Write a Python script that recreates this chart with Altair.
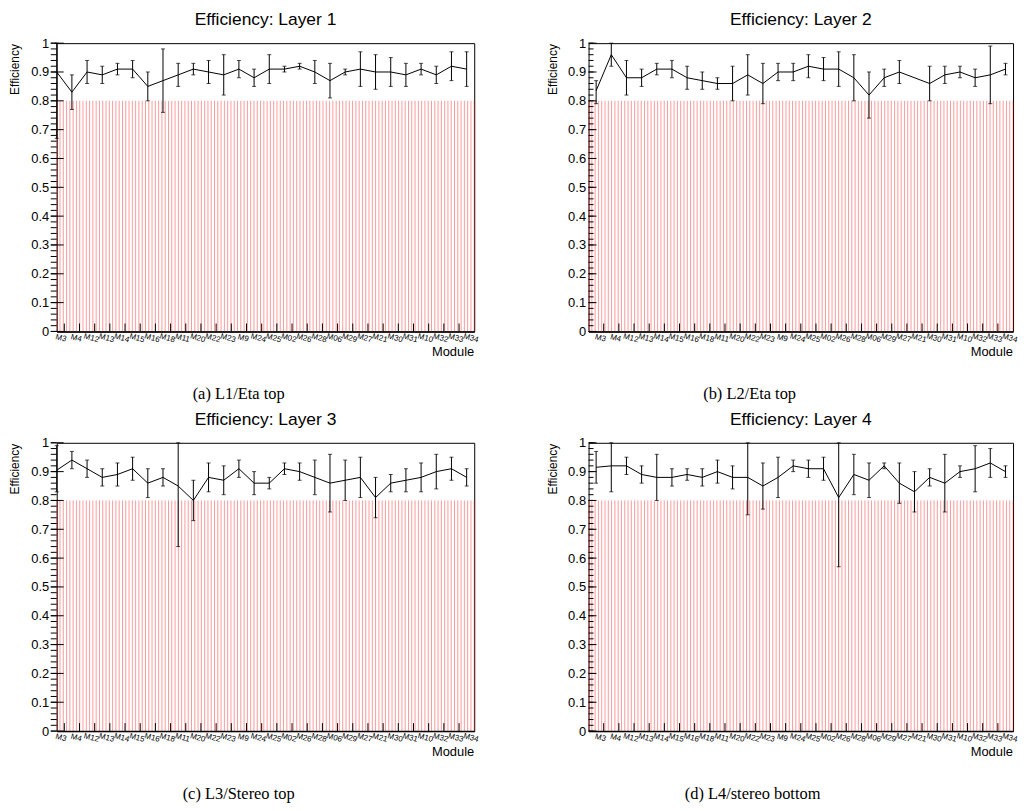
import altair as alt
import pandas as pd
import numpy as np

modules = ["M3", "M4", "M12", "M13", "M14", "M15", "M16", "M18", "M11", "M20",
           "M22", "M23", "M9", "M24", "M25", "M02", "M26", "M28", "M06", "M29",
           "M27", "M21", "M30", "M31", "M10", "M32", "M33", "M34"]

eff1 = [0.90, 0.83, 0.90, 0.89, 0.91, 0.91, 0.85, 0.87, 0.89, 0.91, 0.90, 0.89, 0.91, 0.88,
        0.91, 0.91, 0.92, 0.90, 0.87, 0.90, 0.91, 0.90, 0.90, 0.89, 0.91, 0.89, 0.92, 0.91]
lo1 = [0.67, 0.77, 0.86, 0.86, 0.89, 0.88, 0.80, 0.76, 0.85, 0.89, 0.86, 0.82, 0.88, 0.85,
       0.86, 0.90, 0.91, 0.86, 0.81, 0.89, 0.85, 0.84, 0.85, 0.85, 0.89, 0.86, 0.87, 0.85]
hi1 = [1.00, 0.89, 0.94, 0.92, 0.93, 0.94, 0.90, 0.98, 0.93, 0.93, 0.94, 0.96, 0.94, 0.91,
       0.96, 0.92, 0.93, 0.94, 0.93, 0.91, 0.97, 0.96, 0.95, 0.93, 0.93, 0.92, 0.97, 0.97]

eff2 = [0.835, 0.96, 0.88, 0.88, 0.91, 0.91, 0.88, 0.87, 0.86, 0.86, 0.89, 0.86, 0.90, 0.90,
        0.92, 0.91, 0.91, 0.88, 0.82, 0.88, 0.90, None, 0.86, 0.89, 0.90, 0.88, 0.89, 0.91]
lo2 = [0.79, 0.92, 0.82, 0.85, 0.89, 0.88, 0.84, 0.84, 0.84, 0.80, 0.82, 0.79, 0.87, 0.87,
       0.88, 0.87, 0.85, 0.80, 0.74, 0.85, 0.86, None, 0.80, 0.86, 0.88, 0.85, 0.79, 0.89]
hi2 = [0.87, 1.00, 0.94, 0.91, 0.93, 0.94, 0.92, 0.90, 0.88, 0.92, 0.96, 0.93, 0.93, 0.93,
       0.96, 0.95, 0.97, 0.96, 0.90, 0.91, 0.94, None, 0.92, 0.92, 0.92, 0.91, 0.99, 0.93]

eff3 = [0.905, 0.94, 0.91, 0.88, 0.89, 0.91, 0.86, 0.88, 0.85, 0.80, 0.88, 0.87, 0.91, 0.86,
        0.86, 0.91, 0.90, 0.88, 0.86, 0.87, 0.88, 0.81, 0.86, 0.87, 0.88, 0.90, 0.91, 0.88]
lo3 = [0.83, 0.91, 0.88, 0.85, 0.85, 0.87, 0.81, 0.85, 0.64, 0.73, 0.83, 0.82, 0.88, 0.82,
       0.84, 0.89, 0.87, 0.82, 0.76, 0.80, 0.81, 0.74, 0.83, 0.83, 0.83, 0.84, 0.87, 0.85]
hi3 = [0.99, 0.97, 0.94, 0.91, 0.93, 0.95, 0.91, 0.91, 1.00, 0.87, 0.93, 0.92, 0.94, 0.90,
       0.88, 0.93, 0.93, 0.94, 0.96, 0.94, 0.95, 0.88, 0.89, 0.91, 0.93, 0.96, 0.95, 0.91]

eff4 = [0.915, 0.92, 0.92, 0.89, 0.88, 0.88, 0.89, 0.88, 0.90, 0.88, 0.88, 0.85, 0.88, 0.92,
        0.91, 0.91, 0.81, 0.89, 0.87, 0.92, 0.86, 0.83, 0.88, 0.86, 0.90, 0.91, 0.93, 0.90]
lo4 = [0.86, 0.83, 0.89, 0.86, 0.80, 0.85, 0.87, 0.85, 0.86, 0.84, 0.75, 0.77, 0.81, 0.90,
       0.88, 0.87, 0.57, 0.82, 0.81, 0.91, 0.79, 0.76, 0.85, 0.76, 0.88, 0.83, 0.88, 0.88]
hi4 = [0.97, 1.00, 0.95, 0.92, 0.96, 0.91, 0.91, 0.91, 0.94, 0.92, 1.00, 0.93, 0.95, 0.94,
       0.94, 0.95, 1.00, 0.96, 0.93, 0.93, 0.93, 0.90, 0.91, 0.96, 0.92, 0.99, 0.98, 0.92]

titles = ["Efficiency: Layer 1", "Efficiency: Layer 2", "Efficiency: Layer 3", "Efficiency: Layer 4"]
captions = ["(a) L1/Eta top", "(b) L2/Eta top", "(c) L3/Stereo top", "(d) L4/stereo bottom"]
threshold = 0.8

layer_eff = [eff1, eff2, eff3, eff4]
layer_lo = [lo1, lo2, lo3, lo4]
layer_hi = [hi1, hi2, hi3, hi4]

PANEL_H = 290
widths = [420, 427, 420, 427]
xdomains = [[0, 27.5], [-0.5, 27.5], [0, 27.5], [-0.5, 27.5]]
ytitle_x = [-42, -36, -42, -36]
label_pad = [8, 3, 8, 3]
caption_x = [183, 162, 183, 165]
minor_tick = [(-6, 0), (0, 5), (-6, 0), (0, 5)]
major_tick = [(-6, 7), (0, 8), (-6, 7), (0, 8)]

FONT = "Liberation Sans"
major = [round(k * 0.1, 1) for k in range(11)]
minor = [round(k * 0.02, 2) for k in range(51)]


def panel(k):
    W = widths[k]
    H = PANEL_H
    df = pd.DataFrame({"i": np.arange(28), "module": modules, "eff": layer_eff[k],
                       "lo": layer_lo[k], "hi": layer_hi[k]})
    df["lx"] = df["i"] + 0.28
    xsc = alt.Scale(domain=xdomains[k], nice=False, zero=False)
    ysc = alt.Scale(domain=[0, 1], nice=False, zero=False)
    xax = alt.Axis(labels=False, ticks=False, tickSize=0, grid=False, title=None,
                   domainColor="black", domainWidth=1.5)
    yax = alt.Axis(values=major, format="~g", ticks=False, tickSize=0, domain=False, grid=False,
                   title=None, labelFont=FONT, labelFontSize=13, labelColor="black",
                   labelPadding=label_pad[k], labelFlush=False, labelOverlap=False)

    def X(f):
        return alt.X(f, scale=xsc, axis=xax)

    def Y(f):
        return alt.Y(f, scale=ysc, axis=yax)

    x0, x1 = xdomains[k]
    hatch = pd.DataFrame({"hx": np.linspace(x0, x1, int(round(W / 3.3)) + 1)})
    hatch["y0"] = 0.0
    hatch["y1"] = threshold
    hatch_layer = alt.Chart(hatch).mark_rule(color="#ff0000", opacity=0.4, strokeWidth=1).encode(
        x=X("hx:Q"), y=Y("y0:Q"), y2="y1:Q")

    base = alt.Chart(df)
    valid = base.transform_filter("isValid(datum.eff)")
    line = valid.mark_line(color="black", strokeWidth=1).encode(x=X("i:Q"), y=Y("eff:Q"))
    bars = valid.mark_rule(color="black", strokeWidth=1).encode(x=X("i:Q"), y=Y("lo:Q"), y2="hi:Q")
    cap_lo = valid.mark_tick(orient="horizontal", size=4, thickness=1, color="black").encode(
        x=X("i:Q"), y=Y("lo:Q"))
    cap_hi = valid.mark_tick(orient="horizontal", size=4, thickness=1, color="black").encode(
        x=X("i:Q"), y=Y("hi:Q"))

    edges = pd.DataFrame({"e": np.arange(27) + 0.5})
    xticks = alt.Chart(edges).mark_rule(color="black", strokeWidth=1).encode(
        x=X("e:Q"), y=alt.value(H), y2=alt.value(H - 8))

    mn = pd.DataFrame({"t": minor})
    mj = pd.DataFrame({"t": major})
    minor_layer = alt.Chart(mn).mark_rule(color="black", strokeWidth=1).encode(
        y=Y("t:Q"), x=alt.value(minor_tick[k][0]), x2=alt.value(minor_tick[k][1]))
    major_layer = alt.Chart(mj).mark_rule(color="black", strokeWidth=1).encode(
        y=Y("t:Q"), x=alt.value(major_tick[k][0]), x2=alt.value(major_tick[k][1]))

    xlabels = base.mark_text(font=FONT, fontSize=8, angle=15, align="center",
                             baseline="middle", color="black").encode(
        x=X("lx:Q"), y=alt.value(H + 7), text="module:N")

    module_text = alt.Chart(pd.DataFrame({"t": ["Module"]})).mark_text(
        font=FONT, fontSize=13, align="right", baseline="middle", color="black").encode(
        x=alt.value(W), y=alt.value(H + 21), text="t:N")
    ytitle = alt.Chart(pd.DataFrame({"t": ["Efficiency"]})).mark_text(
        font=FONT, fontSize=12, angle=270, align="right", baseline="middle", color="black").encode(
        x=alt.value(ytitle_x[k]), y=alt.value(1), text="t:N")
    title = alt.Chart(pd.DataFrame({"t": [titles[k]]})).mark_text(
        font=FONT, fontSize=17.5, align="center", baseline="alphabetic", color="black").encode(
        x=alt.value(W / 2), y=alt.value(-18), text="t:N")
    caption = alt.Chart(pd.DataFrame({"t": [captions[k]]})).mark_text(
        font="Liberation Serif", fontSize=16.5, align="center", baseline="alphabetic",
        color="black").encode(
        x=alt.value(caption_x[k]), y=alt.value(H + 68), text="t:N")

    return alt.layer(hatch_layer, line, bars, cap_lo, cap_hi, xticks, minor_layer, major_layer,
                     xlabels, module_text, ytitle, title, caption).properties(width=W, height=H)


chart = alt.concat(panel(0), panel(1), panel(2), panel(3), columns=2,
                   spacing={"row": 112, "column": 115}, bounds="flush").properties(
    padding=0, background="white").configure_view(stroke="black", strokeWidth=1)

chart.save("out.html", embed_options={"renderer": "svg", "actions": False})
